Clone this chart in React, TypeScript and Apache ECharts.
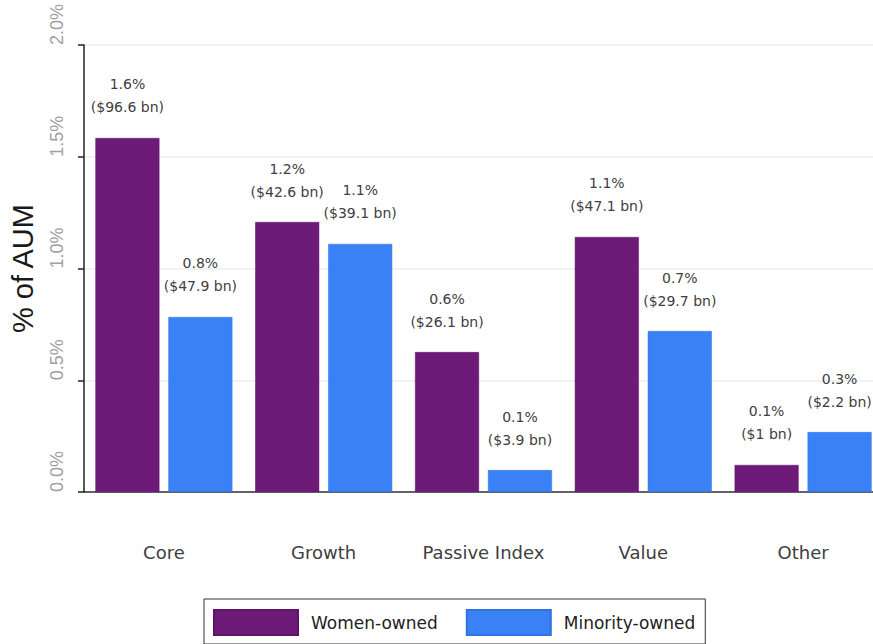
import React, { useEffect, useRef } from "react";
import * as echarts from "echarts";

const categories = ["Core", "Growth", "Passive Index", "Value", "Other"];
const womenPct = [1.584, 1.208, 0.626, 1.141, 0.121];
const minorityPct = [0.783, 1.11, 0.098, 0.72, 0.268];
const womenBn = [96.6, 42.6, 26.1, 47.1, 1];
const minorityBn = [47.9, 39.1, 3.9, 29.7, 2.2];
const seriesNames = ["Women-owned", "Minority-owned"];
const yTicks = [0, 0.5, 1, 1.5, 2];

export default function App() {
  const ref = useRef<HTMLDivElement>(null);
  useEffect(() => {
    if (!ref.current) return;
    const chart = echarts.init(ref.current, undefined, { renderer: "svg" });
    const labelFor = (bn: number[]) => ({
      show: true,
      position: "top",
      distance: 19,
      fontFamily: "DejaVu Sans",
      fontSize: 14,
      lineHeight: 23,
      color: "#404040",
      align: "center",
      formatter: (p: any) => `${(p.value as number).toFixed(1)}%\n($${bn[p.dataIndex]} bn)`,
    });
    chart.setOption({
      animation: false,
      backgroundColor: "#ffffff",
      grid: { left: 83, right: 0, top: 45, bottom: 152, containLabel: false },
      legend: {
        data: seriesNames,
        left: 204,
        top: 599,
        orient: "horizontal",
        itemWidth: 84,
        itemHeight: 25,
        itemGap: 28,
        padding: [10, 10, 8, 9],
        borderColor: "#333333",
        borderWidth: 1,
        icon: "rect",
        textStyle: {
          fontFamily: "DejaVu Sans",
          fontSize: 17,
          color: "#222222",
          padding: [0, 0, 0, 8],
        },
      },
      xAxis: {
        type: "category",
        data: categories,
        axisLine: { show: true, lineStyle: { color: "#333333", width: 1.5 } },
        axisTick: { show: false },
        axisLabel: {
          interval: 0,
          margin: 51,
          fontFamily: "DejaVu Sans",
          fontSize: 18,
          color: "#404040",
        },
        splitLine: { show: false },
      },
      yAxis: {
        type: "value",
        min: 0,
        max: 2,
        interval: 0.5,
        name: "% of AUM",
        nameLocation: "middle",
        nameGap: 47,
        nameTextStyle: {
          fontFamily: "Liberation Sans",
          fontSize: 29,
          color: "#1a1a1a",
        },
        axisLine: { show: true, lineStyle: { color: "#222222", width: 1.5 } },
        axisTick: { show: true, inside: false, length: 6, lineStyle: { color: "#222222", width: 1.5 } },
        axisLabel: {
          rotate: 90,
          align: "left",
          verticalAlign: "middle",
          margin: 27,
          fontFamily: "Liberation Sans",
          fontSize: 18,
          color: "#a0a0a0",
          formatter: (v: number) => (yTicks.includes(v) ? `${v.toFixed(1)}%` : ""),
        },
        splitLine: { show: true, lineStyle: { color: "#eaeef5", width: 1.5 } },
      },
      series: [
        {
          name: seriesNames[0],
          type: "bar",
          data: womenPct,
          barWidth: 64,
          barGap: "14%",
          itemStyle: { color: "#6E1A78", borderColor: "#5e1466", borderWidth: 0.5 },
          label: labelFor(womenBn),
        },
        {
          name: seriesNames[1],
          type: "bar",
          data: minorityPct,
          barWidth: 64,
          barGap: "14%",
          itemStyle: { color: "#3A81F6", borderColor: "#2f72e0", borderWidth: 0.5 },
          label: labelFor(minorityBn),
        },
      ],
    });
    return () => chart.dispose();
  }, []);
  return (
    <div style={{ position: "fixed", left: 0, top: 0, width: 873, height: 644, overflow: "hidden", background: "#fff" }}>
      <div ref={ref} style={{ position: "absolute", left: 0, top: 0, width: 883, height: 644 }} />
    </div>
  );
}
